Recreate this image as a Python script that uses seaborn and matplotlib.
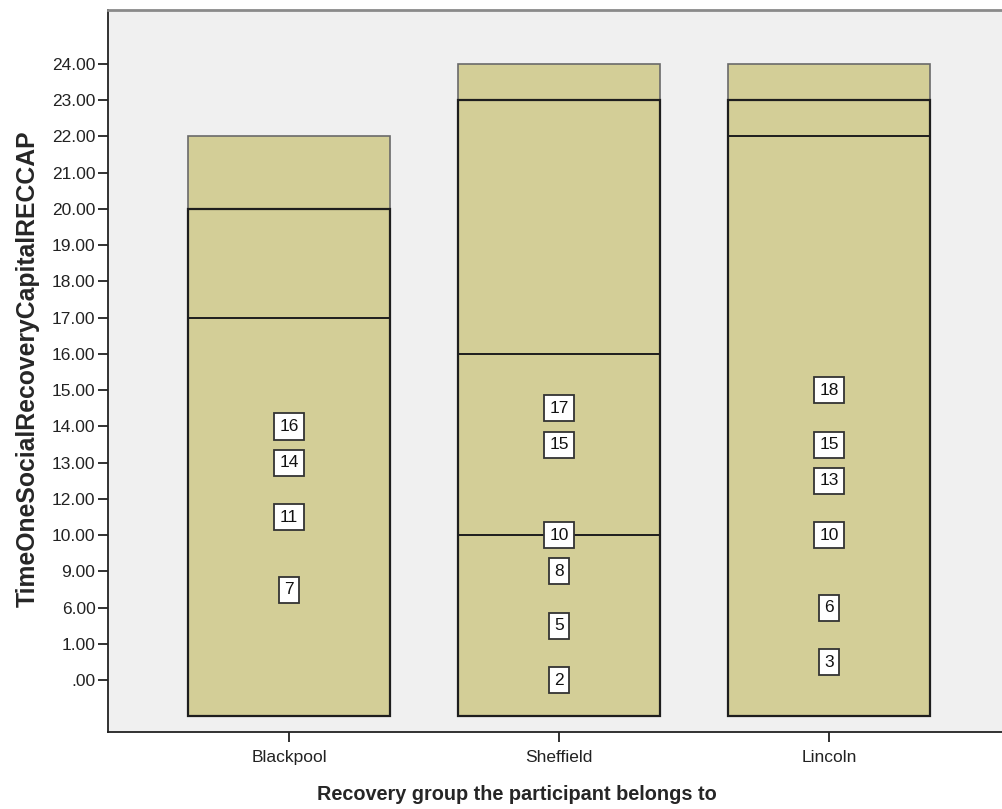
import matplotlib
matplotlib.use("Agg")
import matplotlib.pyplot as plt
import seaborn as sns
import pandas as pd

# -----------------------------------------------------
# DATA (y axis is categorical)
# -----------------------------------------------------
groups = ["Blackpool", "Sheffield", "Lincoln"]
y_levels = [".00", "1.00", "6.00", "9.00", "10.00", "12.00", "13.00", "14.00",
            "15.00", "16.00", "17.00", "18.00", "19.00", "20.00", "21.00",
            "22.00", "23.00", "24.00"]

box_base = [-1, -1, -1]                      # boxes run below the lowest level
q1_level = [None, "10.00", None]
median_level = ["17.00", "16.00", "22.00"]
q3_level = ["20.00", "23.00", "23.00"]
top_level = ["22.00", "24.00", "24.00"]

case_ids = [[16, 14, 11, 7], [17, 15, 10, 8, 5, 2], [18, 15, 13, 10, 6, 3]]
case_pos = [[7, 6, 4.5, 2.5], [7.5, 6.5, 4, 3, 1.5, 0], [8, 6.5, 5.5, 4, 2, 0.5]]

FILL = "#d3ce97"
BG = "#f0f0f0"

def lvl(name):
    return y_levels.index(name)

sns.set_style("white", {"axes.facecolor": BG})
plt.rcParams["font.family"] = ["Liberation Sans", "DejaVu Sans"]

fig = plt.figure(figsize=(10.02, 8.09), dpi=100)
ax = fig.add_axes([108 / 1002, 77 / 809, 902 / 1002, 722 / 809])

df = pd.DataFrame({
    "group": groups,
    "lower": [lvl(q) - b for q, b in zip(q3_level, box_base)],
    "upper": [lvl(t) - lvl(q) for t, q in zip(top_level, q3_level)],
})

# whisker region (Q3 -> top) with lighter edge
sns.barplot(data=df, x="group", y="upper", bottom=[lvl(q) for q in q3_level],
            color=FILL, saturation=1, width=0.75, edgecolor="#6a6a6a",
            linewidth=1.2, errorbar=None, ax=ax)
# main box (base -> Q3) with dark edge
sns.barplot(data=df, x="group", y="lower", bottom=box_base,
            color=FILL, saturation=1, width=0.75, edgecolor="#1e1e1e",
            linewidth=1.6, errorbar=None, ax=ax)

half = 0.375
for i in range(len(groups)):
    ax.hlines(lvl(median_level[i]), i - half, i + half, color="#1e1e1e", lw=1.4, zorder=4)
    if q1_level[i] is not None:
        ax.hlines(lvl(q1_level[i]), i - half, i + half, color="#1e1e1e", lw=1.4, zorder=4)
    for cid, p in zip(case_ids[i], case_pos[i]):
        ax.text(i, p, str(cid), ha="center", va="center", fontsize=12.5, zorder=5,
                color="#111111",
                bbox=dict(boxstyle="square,pad=0.32", fc="white", ec="#333333", lw=1.3))

ax.set_xlim(-0.67, 2.67)
ax.set_ylim(-1.43, 18.49)
ax.set_yticks(range(len(y_levels)))
ax.set_yticklabels(y_levels, fontsize=12.5, color="#222222")
ax.set_xticks(range(len(groups)))
ax.set_xticklabels(groups, fontsize=12.5, color="#222222")
ax.tick_params(axis="both", direction="out", length=7, width=1.3, color="#222222",
               left=True, bottom=True, pad=2)
ax.tick_params(axis="x", pad=6)

for side in ["left", "bottom"]:
    ax.spines[side].set_color("#222222")
    ax.spines[side].set_linewidth(1.3)
ax.spines["top"].set_color("#8a8a8a")
ax.spines["top"].set_linewidth(2)
ax.spines["right"].set_visible(False)

ax.set_xlabel("Recovery group the participant belongs to", fontsize=14.3,
              fontweight="bold")
ax.set_ylabel("TimeOneSocialRecoveryCapitalRECCAP", fontsize=17.8,
              fontweight="bold")
ax.xaxis.set_label_coords(0.453, -0.087)
ax.yaxis.set_label_coords(-0.0887, 0.503)
ax.xaxis.label.set_va("center")
ax.yaxis.label.set_va("center")

fig.savefig("out.png", dpi=100, facecolor="white")
